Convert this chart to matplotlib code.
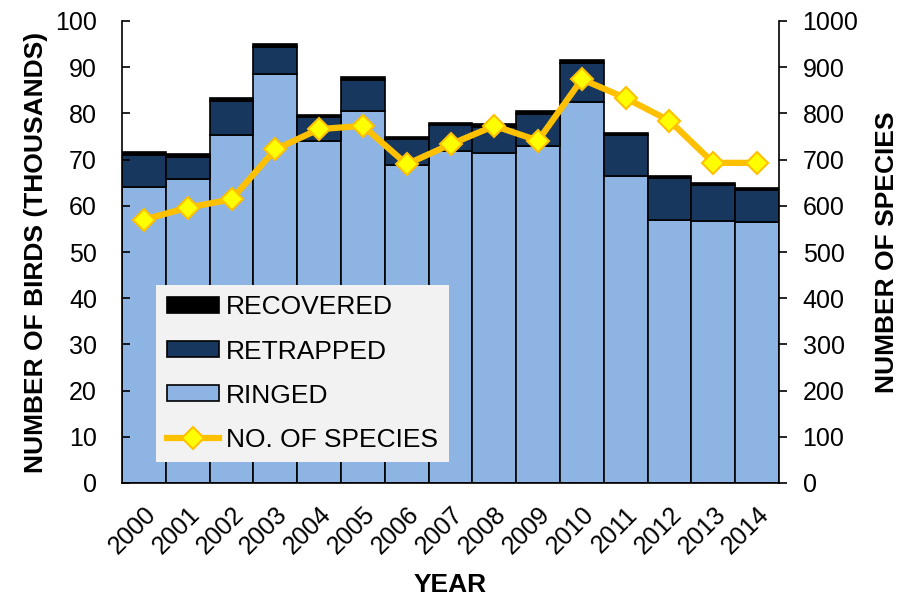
import matplotlib.pyplot as plt
import numpy as np

plt.rcParams['font.family'] = ['Liberation Sans', 'DejaVu Sans']

years = ['2000', '2001', '2002', '2003', '2004', '2005', '2006', '2007',
         '2008', '2009', '2010', '2011', '2012', '2013', '2014']
ringed = [64.1, 65.8, 75.3, 88.5, 74.1, 80.5, 68.8, 71.9, 71.4, 73.0, 82.5, 66.4, 56.9, 56.8, 56.4]
retrapped = [6.8, 4.8, 7.4, 5.8, 5.1, 6.8, 5.7, 5.5, 5.7, 6.9, 8.5, 8.9, 9.1, 7.6, 7.0]
recovered = [0.7, 0.6, 0.7, 0.65, 0.5, 0.6, 0.5, 0.6, 0.5, 0.7, 0.6, 0.4, 0.45, 0.5, 0.55]
species = [570, 596, 614, 722, 766, 773, 690, 733, 773, 741, 874, 833, 784, 693, 693]

x = np.arange(len(years))
ringed = np.array(ringed)
retrapped = np.array(retrapped)
recovered = np.array(recovered)

fig = plt.figure(figsize=(9.01, 5.96), dpi=100)
ax = fig.add_axes([122/901, 1 - 483/596, (779 - 122)/901, (483 - 21)/596])

b1 = ax.bar(x, ringed, width=1.0, color='#8EB4E3', edgecolor='black', linewidth=1.2)
b2 = ax.bar(x, retrapped, width=1.0, bottom=ringed, color='#17375E', edgecolor='black', linewidth=1.2)
b3 = ax.bar(x, recovered, width=1.0, bottom=ringed + retrapped, color='black', edgecolor='black', linewidth=1.2)

ax.set_xlim(-0.5, len(years) - 0.5)
ax.set_ylim(0, 100)
ax.set_yticks(range(0, 101, 10))
ax.tick_params(axis='y', direction='in', length=6, width=1.2, labelsize=18, pad=18)
ax.set_xticks(x)
ax.set_xticklabels(years, rotation=45, ha='right', rotation_mode='anchor')
ax.tick_params(axis='x', length=0, labelsize=18, pad=14)
ax.spines['top'].set_visible(False)
ax.spines['right'].set_visible(False)
for s in ['left', 'bottom']:
    ax.spines[s].set_linewidth(1.2)
ax.set_ylabel('NUMBER OF BIRDS (THOUSANDS)', fontsize=19, fontweight='bold', labelpad=5)
ax.set_xlabel('YEAR', fontsize=19, fontweight='bold', labelpad=10)

ax2 = ax.twinx()
line, = ax2.plot(x, species, color='#FFC000', linewidth=4.5, marker='D', markersize=11,
                 markerfacecolor='#FFFF00', markeredgecolor='#FFC000', markeredgewidth=1.5)
ax2.set_ylim(0, 1000)
ax2.set_yticks(range(0, 1001, 100))
ax2.tick_params(axis='y', direction='out', length=6, width=1.2, labelsize=18, pad=11)
ax2.spines['top'].set_visible(False)
ax2.spines['left'].set_visible(False)
ax2.spines['bottom'].set_visible(False)
ax2.spines['right'].set_linewidth(1.2)
ax2.set_ylabel('NUMBER OF SPECIES', fontsize=19, fontweight='bold', labelpad=12)

leg = ax2.legend([b3, b2, b1, line], ['RECOVERED', 'RETRAPPED', 'RINGED', 'NO. OF SPECIES'],
                 loc='lower left', bbox_to_anchor=(0.052, 0.045), fontsize=19,
                 frameon=True, fancybox=False, facecolor='#F2F2F2', edgecolor='none',
                 framealpha=1, handlelength=2.0, handleheight=0.55, labelspacing=0.76,
                 handletextpad=0.25, borderpad=0.4, borderaxespad=0)

fig.savefig('out.png', dpi=100)
